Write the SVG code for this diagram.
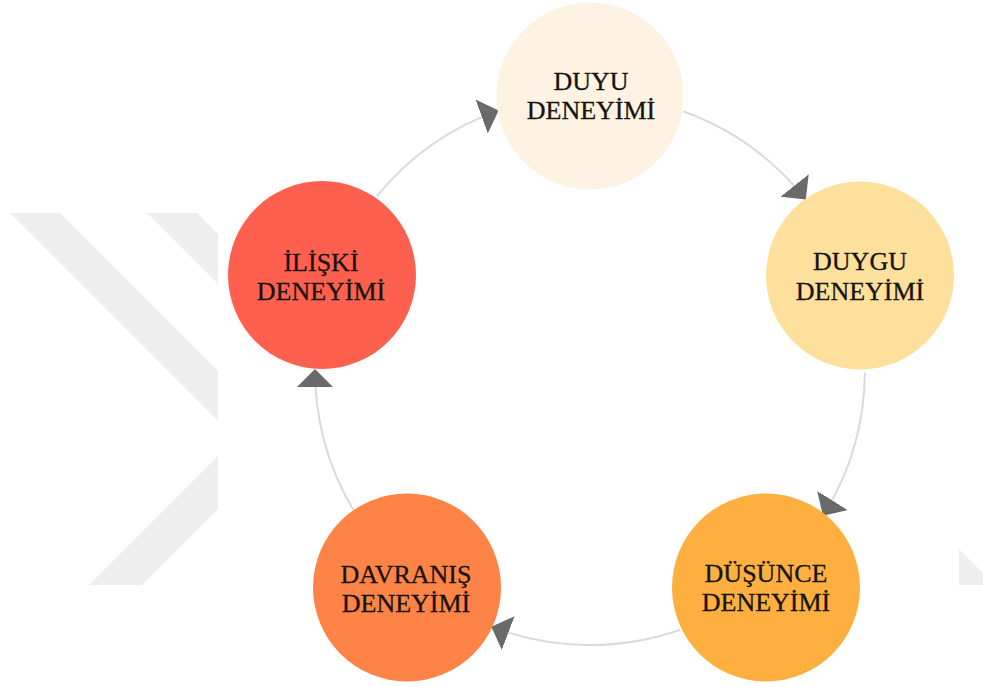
<svg xmlns="http://www.w3.org/2000/svg" width="983" height="687" viewBox="0 0 983 687">
  <style>
    .wm { fill: #eeeeee; }
    .conn { fill: none; stroke: #dadada; stroke-width: 2; }
    .lbl { font-family: "Liberation Serif", "Times New Roman", serif; font-size: 26px; fill: #17130f; stroke: #17130f; stroke-width: 0.3; text-anchor: middle; }
  </style>
  <defs>
    <marker id="arr" markerUnits="userSpaceOnUse" viewBox="0 0 18 36" markerWidth="18" markerHeight="36" refX="17" refY="18" orient="auto">
      <path d="M0,0 L18,18 L0,36 Z" fill="#6a6a6a"/>
    </marker>
  </defs>
  <rect x="0" y="0" width="983" height="687" fill="#ffffff"/>
  <g id="watermark">
    <polygon class="wm" points="10,213 60,213 218,371 218,421"/>
    <polygon class="wm" points="147,213 197,213 218,234 218,284"/>
    <polygon class="wm" points="89,585 142,585 218,509 218,456"/>
    <polygon class="wm" points="959,549 983,573 983,585 959,585"/>
  </g>
  <g id="connectors">
    <path class="conn" marker-end="url(#arr)" d="M376.9,196.2 A275,275 0 0 1 497.7,110.9"/>
    <path class="conn" marker-end="url(#arr)" d="M683.1,111.3 A275,275 0 0 1 805.2,198.8"/>
    <path class="conn" marker-end="url(#arr)" d="M864.9,372.4 A275,275 0 0 1 823.5,515"/>
    <path class="conn" marker-end="url(#arr)" d="M680.4,629.7 A275,275 0 0 1 492.3,627.1"/>
    <path class="conn" marker-end="url(#arr)" d="M353.1,509.6 A275,275 0 0 1 315,370"/>
  </g>
  <g id="duyu">
    <circle cx="590" cy="96" r="93.5" fill="#fef3e3"/>
    <text class="lbl" x="591" y="90">DUYU</text>
    <text class="lbl" x="591" y="119">DENEYİMİ</text>
  </g>
  <g id="duygu">
    <circle cx="860" cy="275.5" r="94" fill="#fee09d"/>
    <text class="lbl" x="860" y="270">DUYGU</text>
    <text class="lbl" x="860" y="300">DENEYİMİ</text>
  </g>
  <g id="dusunce">
    <circle cx="766" cy="587.5" r="94" fill="#fdb03f"/>
    <text class="lbl" x="766" y="582">DÜŞÜNCE</text>
    <text class="lbl" x="766" y="611">DENEYİMİ</text>
  </g>
  <g id="davranis">
    <circle cx="407" cy="587.5" r="94" fill="#fd8446"/>
    <text class="lbl" x="406" y="583">DAVRANIŞ</text>
    <text class="lbl" x="406" y="612">DENEYİMİ</text>
  </g>
  <g id="iliski">
    <circle cx="322" cy="275" r="94" fill="#fe604f"/>
    <text class="lbl" x="321" y="271">İLİŞKİ</text>
    <text class="lbl" x="321" y="300">DENEYİMİ</text>
  </g>
</svg>
